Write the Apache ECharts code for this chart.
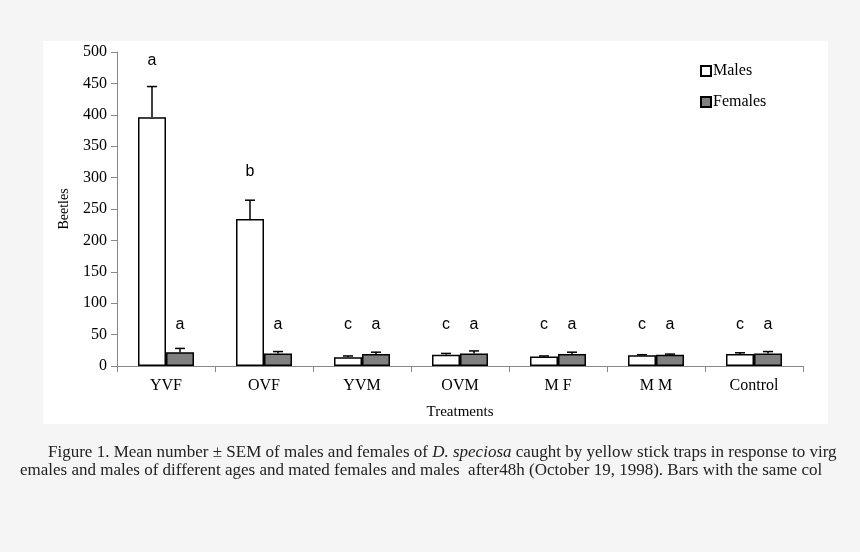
<!DOCTYPE html>
<html>
<head>
<meta charset="utf-8">
<script src="https://cdn.jsdelivr.net/npm/echarts@6/dist/echarts.min.js"></script>
<style>
html,body{margin:0;padding:0;background:#f5f5f5;}
#c{width:860px;height:552px;}
</style>
</head>
<body>
<div id="c"></div>
<script>
var categories = ['YVF', 'OVF', 'YVM', 'OVM', 'M F', 'M M', 'Control'];
var males = [396, 234, 14, 18, 15, 17, 19];
var malesSem = [49, 30, 2, 2, 1, 1, 2];
var females = [22, 20, 19, 20, 19, 18, 20];
var femalesSem = [6, 3, 3, 4, 3, 1, 3];
var maleLetters = ['a', 'b', 'c', 'c', 'c', 'c', 'c'];
var femaleLetters = ['a', 'a', 'a', 'a', 'a', 'a', 'a'];
var maleLetterLevel = [486, 309, 66, 66, 66, 66, 66];
var femaleLetterLevel = [66, 66, 66, 66, 66, 66, 66];
var yTicks = [0, 50, 100, 150, 200, 250, 300, 350, 400, 450, 500];

var serif = '"Liberation Serif", "Times New Roman", serif';
var sans = '"Liberation Sans", Arial, sans-serif';

function errData(vals, sems, letters, levels) {
  return vals.map(function (v, i) { return [i, v, v + sems[i], letters[i], levels[i]]; });
}
function makeRender(offset) {
  return function (params, api) {
    var c0 = api.coord([api.value(0), api.value(1)]);
    var c1 = api.coord([api.value(0), api.value(2)]);
    var cl = api.coord([api.value(0), api.value(4)]);
    var x = c0[0] + offset;
    var st = { stroke: '#000', lineWidth: 1.5 };
    return {
      type: 'group',
      children: [
        { type: 'line', shape: { x1: x, y1: c0[1], x2: x, y2: c1[1] }, style: st },
        { type: 'line', shape: { x1: x - 5, y1: c1[1], x2: x + 5, y2: c1[1] }, style: st },
        { type: 'text', x: x, y: cl[1], style: { text: api.value(3), fill: '#000', font: '16px ' + sans, textAlign: 'center', textVerticalAlign: 'middle' } }
      ]
    };
  };
}

var chart = echarts.init(document.getElementById('c'), null, { renderer: 'canvas' });
chart.setOption({
  backgroundColor: '#f5f5f5',
  animation: false,
  graphic: [
    { type: 'rect', shape: { x: 43, y: 41, width: 785, height: 383 }, style: { fill: '#ffffff' }, z: -10, silent: true },
    { type: 'text', x: 48, y: 444, z: 5, style: {
        text: '{n|Figure 1. Mean number \u00b1 SEM of males and females of }{i|D. speciosa}{n| caught by yellow stick traps in response to virg}',
        rich: {
          n: { fill: '#222', fontFamily: serif, fontSize: 17 },
          i: { fill: '#222', fontFamily: serif, fontSize: 17, fontStyle: 'italic' }
        }
      } },
    { type: 'text', x: 20, y: 462, z: 5, style: { text: 'emales and males of different ages and mated females and males  after48h (October 19, 1998). Bars with the same col', fill: '#222', font: '17px ' + serif } }
  ],
  grid: { left: 117, right: 57, top: 52, bottom: 186, containLabel: false },
  legend: {
    orient: 'vertical', left: 695, top: 58, itemWidth: 10, itemHeight: 10, itemGap: 15,
    icon: 'rect',
    textStyle: { fontFamily: serif, fontSize: 16, color: '#000', padding: [0, 0, 0, -3] },
    data: ['Males', 'Females']
  },
  xAxis: {
    type: 'category', data: categories,
    name: 'Treatments', nameLocation: 'middle', nameGap: 39,
    nameTextStyle: { fontFamily: serif, fontSize: 15, color: '#000' },
    axisLine: { lineStyle: { color: '#888', width: 1 } },
    axisTick: { show: true, length: 6, lineStyle: { color: '#888' } },
    axisLabel: { fontFamily: serif, fontSize: 16, color: '#000', margin: 12 }
  },
  yAxis: {
    type: 'value', min: 0, max: 500, interval: 50,
    name: 'Beetles', nameLocation: 'middle', nameGap: 46, nameRotate: 90,
    nameTextStyle: { fontFamily: serif, fontSize: 14, color: '#000' },
    axisLine: { show: true, lineStyle: { color: '#888', width: 1 } },
    axisTick: { show: true, length: 6, lineStyle: { color: '#888' } },
    axisLabel: { fontFamily: serif, fontSize: 16, color: '#000', margin: 10,
      formatter: function (v) { return yTicks.indexOf(v) >= 0 ? String(v) : ''; } },
    splitLine: { show: false }
  },
  series: [
    { name: 'Males', type: 'bar', data: males, barWidth: 28, barGap: '0%',
      itemStyle: { color: '#ffffff', borderColor: '#000', borderWidth: 1.5 } },
    { name: 'Females', type: 'bar', data: females, barWidth: 28, barGap: '0%',
      itemStyle: { color: '#808080', borderColor: '#000', borderWidth: 1.5 } },
    { type: 'custom', name: 'MalesErr', renderItem: makeRender(-14), data: errData(males, malesSem, maleLetters, maleLetterLevel), z: 10 },
    { type: 'custom', name: 'FemalesErr', renderItem: makeRender(14), data: errData(females, femalesSem, femaleLetters, femaleLetterLevel), z: 10 }
  ]
});
</script>
</body>
</html>
